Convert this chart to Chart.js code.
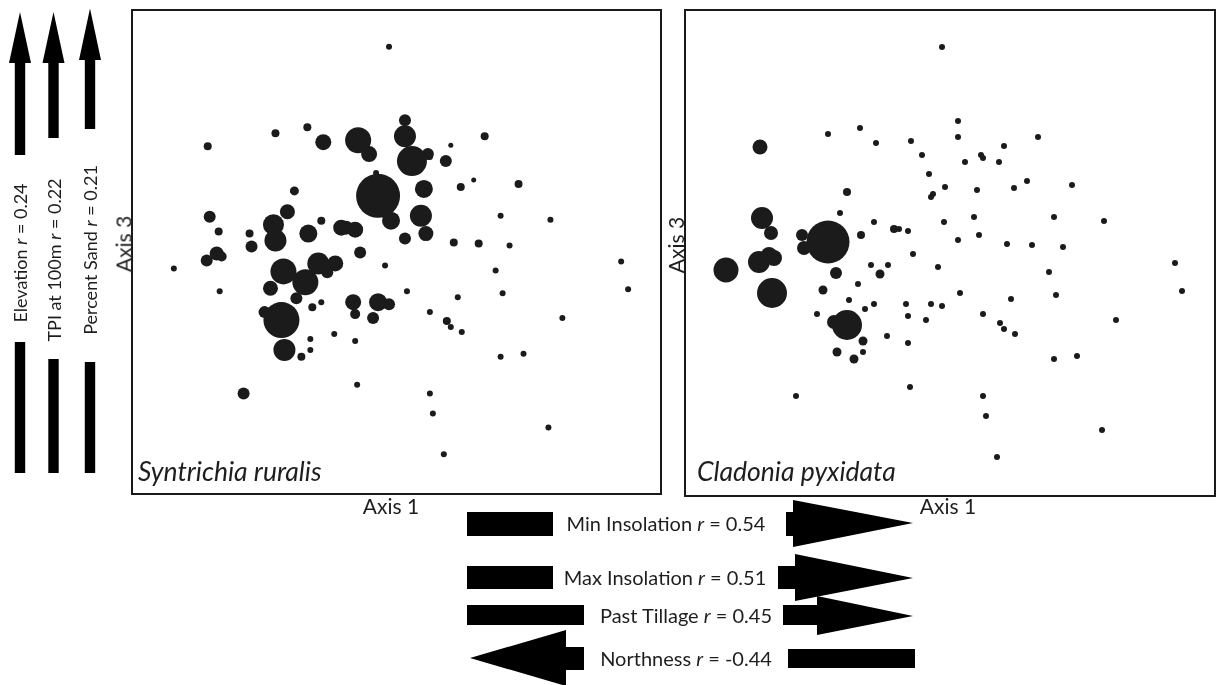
<!DOCTYPE html>
<html>
<head>
<meta charset="utf-8">
<script src="https://cdn.jsdelivr.net/npm/chart.js@4/dist/chart.umd.min.js"></script>
<style>
    body { margin: 0; background: #fff; width: 1219px; height: 685px; overflow: hidden; position: relative;
        font-family: Lato, "Open Sans", sans-serif; color: #1e1e1e; }
    .frame { position: absolute; border: 2.5px solid #1a1a1a; box-sizing: border-box; }
    canvas { position: absolute; }
    .lbl { position: absolute; white-space: nowrap; transform: translate(-50%, -50%); }
    .vert { transform: translate(-50%, -50%) rotate(-90deg); }
    .species { position: absolute; font-style: italic; font-size: 26.5px; line-height: 27px; white-space: nowrap; }
    #arrows { position: absolute; left: 0; top: 0; }
</style>
</head>
<body>

<div class="frame" style="left:131px; top:9px; width:531px; height:486px;"></div>
<div class="frame" style="left:684px; top:9px; width:532px; height:488px;"></div>
<canvas id="leftChart" width="526" height="483" style="left:134px; top:10px;"></canvas>
<canvas id="rightChart" width="528" height="486" style="left:686px; top:10px;"></canvas>

<div class="species" style="left:138px; top:458px;">Syntrichia ruralis</div>
<div class="species" style="left:697px; top:458px;">Cladonia pyxidata</div>

<div class="lbl" style="left:391px; top:505px; font-size:21px;">Axis 1</div>
<div class="lbl" style="left:948px; top:505px; font-size:21px;">Axis 1</div>
<div class="lbl vert" style="left:123px; top:244px; font-size:21px;">Axis 3</div>
<div class="lbl vert" style="left:675px; top:245px; font-size:21px;">Axis 3</div>

<svg id="arrows" width="1219" height="685"></svg>

<script>
// ordination scores (axis 1 / axis 3), same plots in both panels
var axis1 = [256, 272, 142, 174, 352, 272, 190, 225, 74, 318, 236, 295, 297, 279, 313, 243, 341, 386, 259, 328,
    291, 247, 245, 161, 418, 368, 288, 154, 76, 85, 188, 258, 208, 213, 222, 175, 116, 142, 293, 272,
    321, 346, 377, 118, 73, 83, 88, 40, 86, 150, 137, 172, 185, 194, 202, 163, 188, 179, 131, 148,
    161, 177, 151, 177, 168, 201, 227, 252, 363, 489, 496, 274, 370, 325, 220, 245, 256, 222, 240, 297,
    314, 318, 329, 430, 222, 368, 391, 224, 110, 297, 300, 416, 311, 140];
var axis3 = [449, 375, 362, 368, 359, 359, 353, 355, 349, 350, 341, 341, 338, 334, 334, 322, 315, 311, 309, 308,
    306, 302, 299, 304, 275, 279, 279, 283, 278, 263, 274, 274, 267, 267, 265, 261, 261, 254, 261, 256,
    252, 251, 249, 248, 234, 241, 238, 226, 203, 223, 206, 212, 231, 222, 231, 196, 192, 187, 182, 174,
    171, 155, 144, 144, 137, 160, 242, 229, 224, 233, 205, 203, 201, 197, 192, 192, 190, 180, 176, 182,
    173, 167, 162, 176, 153, 137, 140, 109, 100, 100, 80, 66, 39, 270];

// abundance of each species in the plots
var syntrichiaAbund = [3, 6, 4, 4, 4, 11, 8, 13, 4, 2.5, 8, 6, 3, 15, 6, 3, 2.5, 4, 3, 4,
    9, 3, 22, 4.5, 3, 3, 11, 7.5, 6, 4, 4, 9, 8, 7, 8, 9, 4, 11, 7.5, 6,
    4, 4, 3, 6, 6, 7, 5, 3, 3, 13, 7.5, 13, 11, 6, 8, 6, 3, 4, 6, 18,
    3, 3, 11, 3, 4, 3, 6, 3, 3, 3, 3, 3, 3, 3, 8, 9, 6, 5, 6, 3,
    4, 3, 3, 3, 3, 3, 3, 3, 6, 3, 3, 3, 3, 10.5];
var cladoniaAbund = [3, 3, 3, 3, 3, 3, 3, 3, 7.5, 3, 3, 3, 3, 3, 3, 3, 3, 3, 3, 3,
    3, 3, 3, 4, 3, 3, 3, 3, 11, 7, 3, 3, 4, 3, 3, 4, 6, 21.5, 3, 3,
    3, 3, 3, 7, 11, 8, 8, 12.5, 15, 6, 4.5, 3, 3, 4.5, 3, 3, 3, 3, 3, 7,
    15, 4.5, 4.5, 3, 4.5, 3, 3, 3, 3, 3, 3, 3, 3, 3, 3, 3, 3, 3, 3, 3,
    3, 3, 3, 3, 3, 3, 3, 3, 3, 3, 3, 3, 3, 3];

// environmental vectors
var vertNames = ["Elevation", "TPI at 100m", "Percent Sand"];
var vertR = ["0.24", "0.22", "0.21"];
var horizNames = ["Min Insolation", "Max Insolation", "Past Tillage", "Northness"];
var horizR = ["0.54", "0.51", "0.45", "-0.44"];

var dotColor = "#1b1b1b";

function makeBubbles(id, abund) {
    var pts = [];
    for (var i = 0; i < axis1.length; i++) {
        pts.push({x: axis1[i], y: axis3[i], r: abund[i]});
    }
    var ctx = document.getElementById(id).getContext("2d");
    return new Chart(ctx, {
        type: "bubble",
        data: {datasets: [{data: pts, backgroundColor: dotColor, borderWidth: 0, hoverRadius: 0}]},
        options: {
            responsive: false,
            animation: false,
            events: [],
            layout: {padding: 0, autoPadding: false},
            plugins: {legend: {display: false}, tooltip: {enabled: false}},
            scales: {
                x: {display: false, min: 0, max: 528},
                y: {display: false, min: 0, max: 486}
            }
        }
    });
}

makeBubbles("leftChart", syntrichiaAbund);
makeBubbles("rightChart", cladoniaAbund);

// arrows drawn as plain shapes
var svg = document.getElementById("arrows");
function poly(pts) {
    var p = document.createElementNS("http://www.w3.org/2000/svg", "polygon");
    p.setAttribute("points", pts.map(function (q) { return q.join(","); }).join(" "));
    p.setAttribute("fill", "#000");
    svg.appendChild(p);
}
function rect(x1, y1, x2, y2) {
    poly([[x1, y1], [x2, y1], [x2, y2], [x1, y2]]);
}
function label(text, r, x, y, vertical, size) {
    var d = document.createElement("div");
    d.className = vertical ? "lbl vert" : "lbl";
    d.style.left = x + "px";
    d.style.top = y + "px";
    d.style.fontSize = size + "px";
    d.innerHTML = text + " <i>r</i> = " + r;
    document.body.appendChild(d);
}

// vertical arrows on the left
var vx = [20, 53.5, 90];
var vtip = [12, 12, 8.5];
var vbase = [63, 63, 60];
var vshaftEnd = [155, 138, 129];
var vbarTop = [342, 359, 362];
var vtextY = [253, 260, 250];
for (var i = 0; i < 3; i++) {
    var c = vx[i];
    poly([[c, vtip[i]], [c + 11, vbase[i]], [c - 11, vbase[i]]]);
    rect(c - 5.2, vbase[i] - 1, c + 5.2, vshaftEnd[i]);
    rect(c - 5.2, vbarTop[i], c + 5.2, 473);
    label(vertNames[i], vertR[i], c, vtextY[i], true, 18);
}

// horizontal arrows below
// row 1
rect(467, 512, 553, 536);
rect(786, 512, 794, 536);
poly([[793, 500], [913, 523], [793, 547]]);
// row 2
rect(467, 566, 553, 589);
rect(778, 566, 796, 589);
poly([[795, 554], [913, 578], [795, 601]]);
// row 3
rect(467, 605, 584, 625);
rect(783, 605, 818, 625);
poly([[817, 596], [913, 616], [817, 635]]);
// row 4
poly([[470, 658], [566, 630], [566, 686]]);
rect(565, 647, 584, 670);
rect(788, 649, 915, 668);

var htextX = [666, 665, 686, 686];
var htextY = [523, 577, 615, 658];
for (var j = 0; j < 4; j++) {
    label(horizNames[j], horizR[j], htextX[j], htextY[j], false, 20);
}
</script>
</body>
</html>
